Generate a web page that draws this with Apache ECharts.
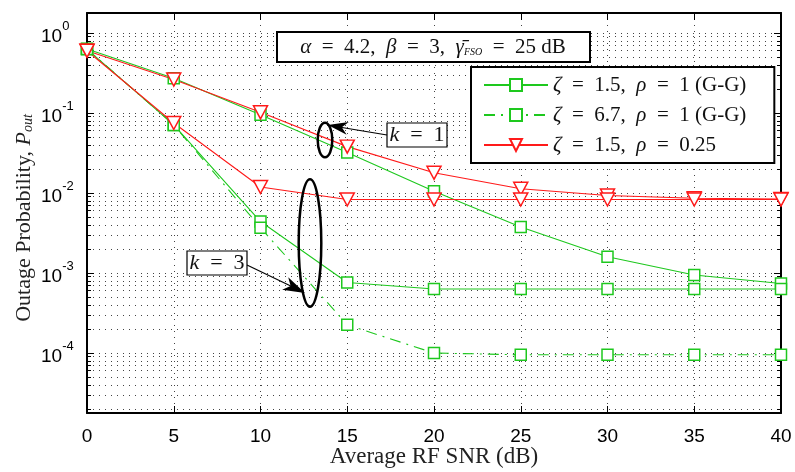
<!DOCTYPE html>
<html><head><meta charset="utf-8">
<script src="https://cdn.jsdelivr.net/npm/echarts@6/dist/echarts.min.js"></script>
<style>html,body{margin:0;padding:0;background:#fff}#c{width:795px;height:472px}</style>
</head><body><div id="c"></div>
<script>
// ---- data (outage probability values) ----
const snr = [0, 5, 10, 15, 20, 25, 30, 35, 40];
const gg15_k1  = [0.63, 0.272, 0.095, 0.032, 0.0105, 0.00375, 0.0016, 0.000945, 0.00074];
const red_k1   = [0.60, 0.262, 0.102, 0.038, 0.0179, 0.0113, 0.0093, 0.0086, 0.0084];
const gg15_k3  = [0.63, 0.071, 0.0044, 0.00076, 0.00063, 0.00063, 0.00063, 0.00063, 0.00063];
const gg67_k3  = [0.63, 0.071, 0.00368, 0.000225, 0.0001, 0.000095, 0.000095, 0.000095, 0.000095];
const red_k3   = [0.60, 0.075, 0.0119, 0.0083, 0.0083, 0.0083, 0.0083, 0.0083, 0.0083];
const seriesNames = ['ζ = 1.5,  ρ = 1 (G-G)', 'ζ = 6.7,  ρ = 1 (G-G)', 'ζ = 1.5,  ρ = 0.25'];
const legendRich = ['{i|ζ}\u2002=\u20021.5,  {i|ρ}\u2002=\u20021 (G-G)',
                    '{i|ζ}\u2002=\u20026.7,  {i|ρ}\u2002=\u20021 (G-G)',
                    '{i|ζ}\u2002=\u20021.5,  {i|ρ}\u2002=\u20020.25'];
const yExpMajor = [-4, -3, -2, -1, 0];

const Y_MIN = -4.75, Y_MAX = 0.25;
const GREEN = '#1ec81e', RED = '#ff1a1a';
const SERIF = '"Liberation Serif", "DejaVu Serif", serif';
const SANS = '"Liberation Sans", Arial, sans-serif';

const yMinor = [];
for (let n = -5; n <= 0; n++) for (let k = 2; k <= 9; k++) {
  const v = Math.log10(k) + n;
  if (v > Y_MIN && v < Y_MAX) yMinor.push(v);
}
const toLog = arr => snr.map((x, i) => [x, Math.log10(arr[i])]);

const gridStyle = {type: [1, 5], color: '#444', width: 1};
const frame = {show: true, onZero: false, lineStyle: {color: '#000', width: 2}};

const chart = echarts.init(document.getElementById('c'), null, {renderer: 'canvas'});

function mkSeries(name, arr, color, dashed, symbol) {
  return {
    type: 'line', name: name, data: toLog(arr), xAxisIndex: 0, yAxisIndex: 0,
    symbol: symbol === 'tri' ? 'triangle' : 'rect',
    symbolRotate: symbol === 'tri' ? 180 : 0,
    symbolSize: symbol === 'tri' ? [14, 13] : 11,
    showAllSymbol: true,
    color: color,
    lineStyle: {color: color, width: 1.1, type: dashed ? [11, 6, 2, 6] : 'solid'},
    itemStyle: {color: '#fff', borderColor: color, borderWidth: 1.5},
    emphasis: {disabled: true},
    animation: false, z: 5
  };
}

const option = {
  animation: false,
  backgroundColor: '#fff',
  grid: {left: 87, right: 14, top: 13, bottom: 59, containLabel: false, outerBoundsMode: 'none'},
  legend: {
    show: true, orient: 'vertical', left: 471, top: 67,
    padding: [7, 28, 7, 12], itemGap: 8, itemWidth: 64, itemHeight: 15,
    backgroundColor: '#fff', borderColor: '#000', borderWidth: 2,
    data: seriesNames, selectedMode: false, z: 20,
    formatter: name => legendRich[seriesNames.indexOf(name)],
    textStyle: {fontFamily: SERIF, fontSize: 21, color: '#111', lineHeight: 22,
      rich: {i: {fontFamily: SERIF, fontStyle: 'italic', fontSize: 21, lineHeight: 22, color: '#111'}}}
  },
  xAxis: [
    {type: 'value', min: 0, max: 40, interval: 5, position: 'bottom',
     axisLine: frame,
     axisTick: {show: true, inside: true, length: 7, lineStyle: {color: '#000', width: 1}},
     axisLabel: {fontFamily: SANS, fontSize: 19, color: '#000', margin: 14},
     splitLine: {show: true, lineStyle: gridStyle},
     name: 'Average RF SNR (dB)', nameLocation: 'middle', nameGap: 32, nameMoveOverlap: false,
     nameTextStyle: {fontFamily: SERIF, fontSize: 23, color: '#222', lineHeight: 24}},
    {type: 'value', min: 0, max: 40, interval: 5, position: 'top',
     axisLine: frame,
     axisTick: {show: true, inside: true, length: 7, lineStyle: {color: '#000', width: 1}},
     axisLabel: {show: false}, splitLine: {show: false}}
  ],
  yAxis: [
    {type: 'value', min: Y_MIN, max: Y_MAX, position: 'left',
     axisLine: frame,
     axisTick: {show: true, inside: true, length: 7, customValues: yExpMajor, lineStyle: {color: '#000', width: 1}},
     axisLabel: {show: true, customValues: yExpMajor, align: 'left', margin: 46,
       formatter: v => '{b|10}{e|' + Math.round(v) + '}',
       rich: {b: {fontFamily: SANS, fontSize: 19, color: '#000', lineHeight: 27, verticalAlign: 'bottom'},
              e: {fontFamily: SANS, fontSize: 13, color: '#000', lineHeight: 11, verticalAlign: 'top'}}},
     splitLine: {show: true, lineStyle: gridStyle},
     name: 'Outage Probability, {i|P}{s|out}', nameLocation: 'middle', nameGap: 52, nameRotate: 90,
     nameMoveOverlap: false,
     nameTextStyle: {fontFamily: SERIF, fontSize: 22, color: '#222', padding: [0, 10, 0, 0],
       rich: {i: {fontFamily: SERIF, fontStyle: 'italic', fontSize: 22, color: '#222'},
              s: {fontFamily: SERIF, fontStyle: 'italic', fontSize: 14, color: '#222', verticalAlign: 'bottom', lineHeight: 14}}}},
    {type: 'value', min: Y_MIN, max: Y_MAX, position: 'left',
     axisLine: {show: false, onZero: false},
     axisTick: {show: true, inside: true, length: 4, customValues: yMinor, lineStyle: {color: '#000', width: 1}},
     axisLabel: {show: false}, splitLine: {show: true, lineStyle: gridStyle}},
    {type: 'value', min: Y_MIN, max: Y_MAX, position: 'right',
     axisLine: frame,
     axisTick: {show: true, inside: true, length: 7, customValues: yExpMajor, lineStyle: {color: '#000', width: 1}},
     axisLabel: {show: false}, splitLine: {show: false}},
    {type: 'value', min: Y_MIN, max: Y_MAX, position: 'right',
     axisLine: {show: false, onZero: false},
     axisTick: {show: true, inside: true, length: 4, customValues: yMinor, lineStyle: {color: '#000', width: 1}},
     axisLabel: {show: false}, splitLine: {show: false}}
  ],
  series: [
    mkSeries(seriesNames[0], gg15_k1, GREEN, false, 'sq'),
    mkSeries(seriesNames[0], gg15_k3, GREEN, false, 'sq'),
    mkSeries(seriesNames[1], gg67_k3, GREEN, true, 'sq'),
    mkSeries(seriesNames[2], red_k1, RED, false, 'tri'),
    mkSeries(seriesNames[2], red_k3, RED, false, 'tri')
  ]
};
chart.setOption(option);

// ---- annotations (boxes, ellipses, arrows) ----
function arrowHead(x0, y0, x1, y1, L, W, notch) {
  const dx = x1 - x0, dy = y1 - y0, len = Math.hypot(dx, dy);
  const ux = dx / len, uy = dy / len, nx = -uy, ny = ux;
  return [[x1, y1], [x1 - ux * L + nx * W, y1 - uy * L + ny * W],
          [x1 - ux * (L - notch), y1 - uy * (L - notch)],
          [x1 - ux * L - nx * W, y1 - uy * L - ny * W]];
}
const kRich = {i: {fontFamily: SERIF, fontStyle: 'italic', fontSize: 22, fill: '#111'}};
const graphics = [
  {type: 'rect', z: 30, shape: {x: 277, y: 32, width: 313, height: 30},
   style: {fill: '#fff', stroke: '#000', lineWidth: 2}},
  {type: 'text', z: 31, x: 433, y: 47,
   style: {text: '{i|α}\u2002=\u20024.2,  {i|β}\u2002=\u20023,  {i|γ̄}{s|FSO}\u2002=\u200225 dB', align: 'center', verticalAlign: 'middle',
     font: '21px ' + SERIF, fill: '#111',
     rich: {i: {fontFamily: SERIF, fontStyle: 'italic', fontSize: 21, fill: '#111'},
            s: {fontFamily: SERIF, fontStyle: 'italic', fontSize: 10, fill: '#111', verticalAlign: 'bottom', padding: [8, 0, 0, 0]}}}},
  {type: 'rect', z: 30, shape: {x: 387, y: 123, width: 60, height: 24},
   style: {fill: '#fff', stroke: '#000', lineWidth: 1.2}},
  {type: 'text', z: 31, x: 417, y: 135,
   style: {text: '{i|k}\u2002=\u20021', align: 'center', verticalAlign: 'middle', font: '22px ' + SERIF, fill: '#111', rich: kRich}},
  {type: 'rect', z: 30, shape: {x: 187, y: 251, width: 60, height: 24},
   style: {fill: '#fff', stroke: '#000', lineWidth: 1.2}},
  {type: 'text', z: 31, x: 217, y: 263,
   style: {text: '{i|k}\u2002=\u20023', align: 'center', verticalAlign: 'middle', font: '22px ' + SERIF, fill: '#111', rich: kRich}},
  {type: 'ellipse', z: 30, shape: {cx: 325, cy: 140, rx: 7.3, ry: 17.3},
   style: {fill: null, stroke: '#000', lineWidth: 2.5}},
  {type: 'ellipse', z: 30, shape: {cx: 310, cy: 243, rx: 11.3, ry: 63.7},
   style: {fill: null, stroke: '#000', lineWidth: 2.5}},
  {type: 'line', z: 30, shape: {x1: 387, y1: 135, x2: 336, y2: 126.5}, style: {stroke: '#000', lineWidth: 1.2}},
  {type: 'polygon', z: 31, shape: {points: arrowHead(387, 135, 328, 125, 20, 6.5, 6)}, style: {fill: '#000'}},
  {type: 'line', z: 30, shape: {x1: 247, y1: 265, x2: 298, y2: 289.5}, style: {stroke: '#000', lineWidth: 1.2}},
  {type: 'polygon', z: 31, shape: {points: arrowHead(247, 265, 305, 293, 22, 7, 6)}, style: {fill: '#000'}}
];
chart.setOption({graphic: graphics});
</script>
</body></html>
